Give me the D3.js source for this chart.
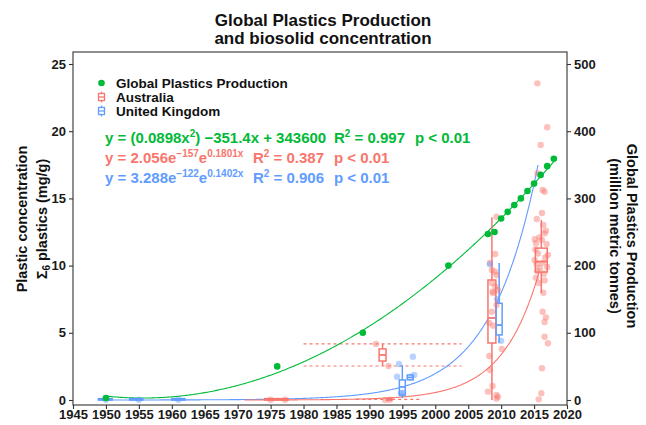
<!DOCTYPE html>
<html>
<head>
<meta charset="utf-8">
<script src="https://cdn.jsdelivr.net/npm/d3@7"></script>
<style>
  body { margin: 0; background: #fff; }
  svg { display: block; }
  text { font-family: "Liberation Sans", Arial, Helvetica, sans-serif; font-weight: bold; }
</style>
</head>
<body>
<svg id="chart" width="646" height="425"></svg>
<script>
// Global plastics production, million metric tonnes
const productionYears = [1950, 1976, 1989, 2002, 2008, 2009, 2010, 2011, 2012, 2013, 2014, 2015, 2016, 2017, 2018];
const productionMt    = [3, 50, 100, 200, 247, 250, 270, 280, 290, 300, 311, 322, 335, 348, 359];

// Australian biosolid survey summaries, Σ6 plastics (mg/g)
const ausBoxes = [
  { year: 1975.1, lo: 0,    q1: 0,    med: 0.05, q3: 0.1,  hi: 0.1,  span: 2.0 },
  { year: 1976.9, lo: 0,    q1: 0,    med: 0.05, q3: 0.1,  hi: 0.1,  span: 1.5 },
  { year: 1992.0, lo: 2.53, q1: 2.9,  med: 3.35, q3: 3.8,  hi: 4.17, span: 1.05 },
  { year: 1993.0, lo: 0,    q1: 0,    med: 0.05, q3: 0.1,  hi: 0.1,  span: 0.8 },
  { year: 2008.6, lo: 0,    q1: 4.24, med: 6.1,  q3: 8.93, hi: 13.6, span: 1.2 },
  { year: 2016.1, lo: 7.96, q1: 9.52, med: 10.3, q3: 11.3, hi: 13.4, span: 1.8 }
];

// United Kingdom biosolid survey summaries, Σ6 plastics (mg/g)
const ukBoxes = [
  { year: 1949.9, lo: 0,    q1: 0,    med: 0.05, q3: 0.1,  hi: 0.1,  span: 2.1 },
  { year: 1954.6, lo: 0,    q1: 0,    med: 0.05, q3: 0.1,  hi: 0.1,  span: 2.0 },
  { year: 1961.0, lo: 0,    q1: 0,    med: 0.05, q3: 0.1,  hi: 0.1,  span: 2.0 },
  { year: 1995.0, lo: 0.15, q1: 0.37, med: 0.97, q3: 1.49, hi: 2.6,  span: 0.9 },
  { year: 1996.2, lo: 1.45, q1: 1.5,  med: 1.68, q3: 1.86, hi: 1.95, span: 0.9 },
  { year: 2009.7, lo: 4.24, q1: 4.84, med: 5.58, q3: 7.2,  hi: 10.2, span: 0.9 }
];

// Individual samples [year, mg/g]
const ausSamples = [
  [1991.0, 4.17], [1992.9, 2.53], [1992.4, 0.0], [1993.1, 0.02], [1975.0, 0.02], [1977.2, 0.02],
  [2009.3, 13.64], [2008.3, 10.19], [2008.6, 9.67], [2009.1, 9.55], [2009.3, 9.30], [2008.6, 8.71],
  [2009.1, 8.43], [2008.7, 8.06], [2008.8, 7.96], [2009.5, 8.18], [2008.2, 5.73], [2008.8, 5.53],
  [2008.2, 3.27], [2010.1, 3.79], [2008.7, 1.04], [2008.0, 0.62], [2009.5, 0.25], [2009.3, 0.10],
  [2009.1, 10.86], [2008.3, 2.23], [2009.3, 0.37], [2009.3, 7.07], [2008.6, 6.57],
  [2015.5, 23.56], [2017.0, 20.29], [2016.0, 18.97], [2015.5, 16.87], [2016.3, 15.63], [2016.6, 15.5],
  [2016.2, 13.91], [2015.4, 13.47], [2016.4, 13.02], [2016.6, 12.40], [2015.1, 11.96], [2015.3, 11.66],
  [2016.4, 7.98], [2016.3, 6.57], [2016.8, 6.15], [2016.6, 5.80], [2016.6, 4.71], [2017.1, 4.22],
  [2016.2, 2.36], [2016.1, 0.50], [2015.7, 0.05],
  [2015.2, 11.2], [2015.6, 10.9], [2016.9, 11.6], [2015.4, 10.1], [2016.7, 10.6], [2015.9, 9.8],
  [2016.5, 9.4], [2015.3, 9.1], [2017.0, 9.9], [2016.2, 11.9], [2015.8, 12.1], [2016.8, 12.6],
  [2015.5, 9.6], [2016.3, 10.2], [2017.1, 10.8], [2015.1, 10.4], [2016.6, 8.9], [2015.7, 8.7]
];
const ukSamples = [
  [1996.6, 3.22], [1994.5, 2.68], [1994.2, 1.73], [1996.8, 1.86], [1995.1, 0.54], [1994.8, 0.5],
  [2008.3, 10.1], [2009.4, 7.5], [2010.0, 4.4], [1950.0, 0.02], [1955.0, 0.02], [1961.0, 0.02]
];

// Reported Australian concentration range (dashed guides)
const ausRange = [
  { from: 1980, to: 2004, value: 4.17 },
  { from: 1980, to: 2004, value: 2.53 },
  { from: 1988, to: 1997.7, value: 0.05 }
];

// Exponential fits y = a·e^(b·year)
const ausFit = { a: 2.056e-157, b: 0.1801, from: 1971, to: 2016 };
const ukFit  = { a: 3.288e-122, b: 0.1402, from: 1949, to: 2015.6 };

const xTicks = d3.range(1945, 2021, 5);
const yTicks = [0, 5, 10, 15, 20, 25];
const yRightTicks = [0, 100, 200, 300, 400, 500];

const GREEN = "#00BA38", RED = "#F8766D", BLUE = "#619CFF";

const svg = d3.select("#chart");
const frame = { left: 73, right: 567, top: 52, bottom: 405 };

const x = d3.scaleLinear().domain([1945, 2020]).range([frame.left, frame.right]);
const y = d3.scaleLinear().domain([0, 25]).range([400, 64]);
const yRight = d3.scaleLinear().domain([0, 500]).range([400, 64]);

// Least-squares quadratic through the production series
function quadFit(xs, ys) {
  const m = d3.mean(xs);
  const S = [0, 0, 0, 0, 0], T = [0, 0, 0];
  xs.forEach((xv, i) => {
    const u = xv - m;
    for (let k = 0; k < 5; k++) S[k] += Math.pow(u, k);
    for (let k = 0; k < 3; k++) T[k] += ys[i] * Math.pow(u, k);
  });
  const A = [[S[0], S[1], S[2]], [S[1], S[2], S[3]], [S[2], S[3], S[4]]];
  const det = M => M[0][0] * (M[1][1] * M[2][2] - M[1][2] * M[2][1])
                 - M[0][1] * (M[1][0] * M[2][2] - M[1][2] * M[2][0])
                 + M[0][2] * (M[1][0] * M[2][1] - M[1][1] * M[2][0]);
  const D = det(A);
  const c = [0, 1, 2].map(j => det(A.map((row, r) => row.map((v, col) => col === j ? T[r] : v))) / D);
  return xv => c[0] + c[1] * (xv - m) + c[2] * (xv - m) * (xv - m);
}
const prodCurve = quadFit(productionYears, productionMt);

// Frame
svg.append("rect")
  .attr("x", frame.left).attr("y", frame.top)
  .attr("width", frame.right - frame.left).attr("height", frame.bottom - frame.top)
  .attr("fill", "none").attr("stroke", "#333").attr("stroke-width", 1.1);

// Axes
function styleAxis(g) {
  g.select(".domain").remove();
  g.selectAll(".tick line").attr("stroke", "#333").attr("stroke-width", 1.1);
  g.selectAll(".tick text").attr("fill", "#1a1a1a").style("font-size", "13px").style("font-weight", "bold");
}
svg.append("g").attr("transform", `translate(0,${frame.bottom})`)
  .call(d3.axisBottom(x).tickValues(xTicks).tickFormat(d3.format("d")).tickSize(4).tickPadding(1))
  .call(styleAxis);
svg.append("g").attr("transform", `translate(${frame.left},0)`)
  .call(d3.axisLeft(y).tickValues(yTicks).tickSize(4).tickPadding(3))
  .call(styleAxis);
svg.append("g").attr("transform", `translate(${frame.right},0)`)
  .call(d3.axisRight(yRight).tickValues(yRightTicks).tickSize(4).tickPadding(3))
  .call(styleAxis);

// Title
const title = svg.append("text").attr("text-anchor", "middle").style("font-size", "17px").attr("fill", "#111");
title.append("tspan").attr("x", 323).attr("y", 26).text("Global Plastics Production");
title.append("tspan").attr("x", 323).attr("y", 44).text("and biosolid concentration");

// Axis titles
const leftTitle = svg.append("text").attr("transform", "translate(27,219) rotate(-90)")
  .attr("text-anchor", "middle").style("font-size", "14.5px").attr("fill", "#111");
leftTitle.append("tspan").attr("x", 0).attr("y", 0).text("Plastic concentration");
const lt2 = leftTitle.append("tspan").attr("x", 0).attr("y", 20);
lt2.append("tspan").text("\u03A3");
lt2.append("tspan").attr("dy", 3).style("font-size", "10px").text("6");
lt2.append("tspan").attr("dy", -3).text(" plastics (mg/g)");

const rightTitle = svg.append("text").attr("transform", "translate(627,236) rotate(90)")
  .attr("text-anchor", "middle").style("font-size", "14.5px").attr("fill", "#111");
rightTitle.append("tspan").attr("x", 0).attr("y", 0).text("Global Plastics Production");
rightTitle.append("tspan").attr("x", 0).attr("y", 17).text("(million metric tonnes)");

const plot = svg.append("g");

// Dashed range guides
plot.selectAll(".range").data(ausRange).join("line")
  .attr("x1", d => x(d.from)).attr("x2", d => x(d.to))
  .attr("y1", d => y(d.value)).attr("y2", d => y(d.value))
  .attr("stroke", RED).attr("stroke-width", 1.2).attr("stroke-dasharray", "3,3");

// Fitted curves
function expPath(fit) {
  const yrs = d3.range(fit.from, fit.to + 0.001, 0.1);
  return d3.line().x(d => x(d)).y(d => y(fit.a * Math.exp(fit.b * d)))(yrs);
}
plot.append("path").attr("d", expPath(ukFit)).attr("fill", "none").attr("stroke", BLUE).attr("stroke-width", 1.1);
plot.append("path").attr("d", expPath(ausFit)).attr("fill", "none").attr("stroke", RED).attr("stroke-width", 1.1);
const prodYrs = d3.range(1950, 2018.001, 0.2);
plot.append("path")
  .attr("d", d3.line().x(d => x(d)).y(d => yRight(prodCurve(d)))(prodYrs))
  .attr("fill", "none").attr("stroke", GREEN).attr("stroke-width", 1.1);

// Box plots
function drawBoxes(data, color) {
  const g = plot.append("g");
  const b = g.selectAll("g").data(data).join("g");
  b.append("line")
    .attr("x1", d => x(d.year)).attr("x2", d => x(d.year))
    .attr("y1", d => y(d.lo)).attr("y2", d => y(d.hi))
    .attr("stroke", color).attr("stroke-width", 1.5);
  b.append("rect")
    .attr("x", d => x(d.year - d.span / 2)).attr("width", d => x(d.year + d.span / 2) - x(d.year - d.span / 2))
    .attr("y", d => y(d.q3)).attr("height", d => y(d.q1) - y(d.q3))
    .attr("fill", "#fff").attr("stroke", color).attr("stroke-width", 1.5);
  b.append("line")
    .attr("x1", d => x(d.year - d.span / 2)).attr("x2", d => x(d.year + d.span / 2))
    .attr("y1", d => y(d.med)).attr("y2", d => y(d.med))
    .attr("stroke", color).attr("stroke-width", 1.8);
}
drawBoxes(ausBoxes, RED);
drawBoxes(ukBoxes, BLUE);

// Samples
plot.append("g").selectAll("circle").data(ausSamples).join("circle")
  .attr("cx", d => x(d[0])).attr("cy", d => y(d[1])).attr("r", 3.2)
  .attr("fill", RED).attr("fill-opacity", 0.45);
plot.append("g").selectAll("circle").data(ukSamples).join("circle")
  .attr("cx", d => x(d[0])).attr("cy", d => y(d[1])).attr("r", 3.2)
  .attr("fill", BLUE).attr("fill-opacity", 0.45);

// Production points
plot.append("g").selectAll("circle").data(productionYears).join("circle")
  .attr("cx", d => x(d)).attr("cy", (d, i) => yRight(productionMt[i])).attr("r", 3.3)
  .attr("fill", GREEN);

// Legend
const legendItems = [
  { label: "Global Plastics Production", color: GREEN, kind: "point" },
  { label: "Australia", color: RED, kind: "box" },
  { label: "United Kingdom", color: BLUE, kind: "box" }
];
const legend = svg.append("g");
legendItems.forEach((item, i) => {
  const cy = 83 + i * 14;
  if (item.kind === "point") {
    legend.append("circle").attr("cx", 101.5).attr("cy", cy).attr("r", 3.3).attr("fill", item.color);
  } else {
    legend.append("line").attr("x1", 101.5).attr("x2", 101.5).attr("y1", cy - 5.5).attr("y2", cy + 5.5)
      .attr("stroke", item.color).attr("stroke-width", 1.3);
    legend.append("rect").attr("x", 98.5).attr("y", cy - 3.5).attr("width", 6).attr("height", 7)
      .attr("fill", "#fff").attr("stroke", item.color).attr("stroke-width", 1.3);
    legend.append("line").attr("x1", 98.5).attr("x2", 104.5).attr("y1", cy).attr("y2", cy)
      .attr("stroke", item.color).attr("stroke-width", 1.3);
  }
  legend.append("text").attr("x", 116).attr("y", cy + 4.8).style("font-size", "13.5px").attr("fill", "#111")
    .text(item.label);
});

// Fit equations
const equations = [
  { color: GREEN, y: 143, parts: [
      { x: 105, runs: [["y = (0.0898x", 0], ["2", 1], [") \u2212351.4x + 343600", 0]] },
      { x: 334, runs: [["R", 0], ["2", 1], [" = 0.997", 0]] },
      { x: 415, runs: [["p < 0.01", 0]] } ] },
  { color: RED, y: 163, parts: [
      { x: 105, runs: [["y = 2.056e", 0], ["\u2212157", 1], ["e", 0], ["0.1801x", 1]] },
      { x: 253, runs: [["R", 0], ["2", 1], [" = 0.387", 0]] },
      { x: 334, runs: [["p < 0.01", 0]] } ] },
  { color: BLUE, y: 183, parts: [
      { x: 105, runs: [["y = 3.288e", 0], ["\u2212122", 1], ["e", 0], ["0.1402x", 1]] },
      { x: 253, runs: [["R", 0], ["2", 1], [" = 0.906", 0]] },
      { x: 334, runs: [["p < 0.01", 0]] } ] }
];
equations.forEach(eq => {
  eq.parts.forEach(p => {
    const t = svg.append("text").attr("x", p.x).attr("y", eq.y).attr("fill", eq.color)
      .style("font-size", "15px").attr("xml:space", "preserve");
    let raised = false;
    p.runs.forEach(([s, sup]) => {
      const ts = t.append("tspan").text(s);
      if (sup && !raised) { ts.attr("dy", -6.5).style("font-size", "10px"); raised = true; }
      else if (!sup && raised) { ts.attr("dy", 6.5); raised = false; }
      else if (sup) { ts.style("font-size", "10px"); }
    });
  });
});
</script>
</body>
</html>
